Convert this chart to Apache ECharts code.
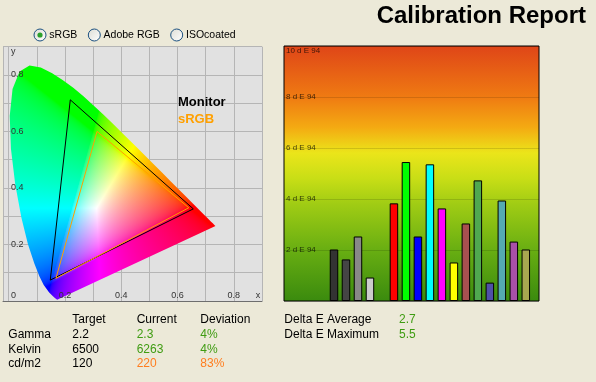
<!DOCTYPE html>
<html><head><meta charset="utf-8">
<script src="https://cdn.jsdelivr.net/npm/echarts@6/dist/echarts.min.js"></script>
<style>html,body{margin:0;padding:0;background:#ece9d8;}#c{width:596px;height:382px;}</style>
</head><body><div id="c"></div>
<script>
// ---- Data ----
// CIE 1931 spectral locus (nm -> x, y)
const wavelengths = [380,400,420,430,440,450,460,470,475,480,485,490,495,500,505,510,515,520,525,530,535,540,545,550,555,560,565,570,575,580,585,590,595,600,610,620,630,640,650,660,680,700];
const locusX = [0.1741,0.1733,0.1714,0.1689,0.1644,0.1566,0.1440,0.1241,0.1096,0.0913,0.0687,0.0454,0.0235,0.0082,0.0039,0.0139,0.0389,0.0743,0.1142,0.1547,0.1929,0.2296,0.2658,0.3016,0.3373,0.3731,0.4087,0.4441,0.4788,0.5125,0.5448,0.5752,0.6029,0.6270,0.6658,0.6915,0.7079,0.7190,0.7260,0.7300,0.7334,0.7347];
const locusY = [0.0050,0.0048,0.0051,0.0069,0.0109,0.0177,0.0297,0.0578,0.0868,0.1327,0.2007,0.2950,0.4127,0.5384,0.6548,0.7502,0.8120,0.8338,0.8262,0.8059,0.7816,0.7543,0.7243,0.6923,0.6589,0.6245,0.5896,0.5547,0.5202,0.4866,0.4544,0.4242,0.3965,0.3725,0.3340,0.3083,0.2920,0.2809,0.2740,0.2700,0.2666,0.2653];
// Gamut triangles (R, G, B)
const monitorX = [0.656, 0.219, 0.148];
const monitorY = [0.326, 0.712, 0.074];
const srgbX = [0.640, 0.314, 0.168];
const srgbY = [0.330, 0.600, 0.080];
const gamutNames = ['Monitor', 'sRGB'];
// Delta E per patch (null = gap)
const patchDeltaE = [2.02, 1.63, 2.53, 0.92, null, 3.83, 5.45, 2.53, 5.36, 3.63, 1.51, 3.04, 4.73, 0.72, 3.94, 2.33, 2.02];
const patchColors = ['#333333','#454545','#888888','#cccccc',null,'#ff0000','#00ff00','#0000ff','#00ffff','#ff00ff','#ffff00','#a85050','#50a850','#5050a8','#55aab2','#a850a8','#a8a850'];
// Radio options
const radioLabels = ['sRGB', 'Adobe RGB', 'ISOcoated'];
const radioSelected = 0;
// Table
const tableHeader = ['Target', 'Current', 'Deviation'];
const rowLabels = ['Gamma', 'Kelvin', 'cd/m2'];
const targetVals = ['2.2', '6500', '120'];
const currentVals = ['2.3', '6263', '220'];
const deviationVals = ['4%', '4%', '83%'];
const rowStatus = ['ok', 'ok', 'warn'];
const summaryLabels = ['Delta E Average', 'Delta E Maximum'];
const summaryVals = ['2.7', '5.5'];

// ---- Helpers ----
const FONT = 'Liberation Sans';
const GREEN = '#3f9c12', ORANGE = '#ff7d1e';
function gammaEnc(v){ return v <= 0.0031308 ? 12.92*v : 1.055*Math.pow(v, 1/2.4) - 0.055; }
function chroma(x, y){
  y = Math.max(y, 0.002);
  const X = x / y, Z = (1 - x - y) / y;
  let r = 3.2406*X - 1.5372 - 0.4986*Z;
  let g = -0.9689*X + 1.8758 + 0.0415*Z;
  let b = 0.0557*X - 0.2040 + 1.0570*Z;
  r = Math.max(r, 0); g = Math.max(g, 0); b = Math.max(b, 0);
  const m = Math.max(r, g, b, 1e-6);
  return [r/m, g/m, b/m].map(v => Math.round(255*Math.min(1, gammaEnc(v))));
}
let fillCache = null;
function buildFill(api, cs){
  const key = [cs.x, cs.y, cs.width, cs.height].join(',');
  if (fillCache && fillCache.key === key) return fillCache.canvas;
  const w = Math.ceil(cs.width), h = Math.ceil(cs.height);
  const cv = document.createElement('canvas'); cv.width = w; cv.height = h;
  const ctx = cv.getContext('2d');
  const img = ctx.createImageData(w, h);
  const p0 = api.coord([0, 0]), p1 = api.coord([1, 1]);
  const sx = p1[0] - p0[0], sy = p1[1] - p0[1];
  for (let j = 0; j < h; j++) for (let i = 0; i < w; i++) {
    const x = (cs.x + i + 0.5 - p0[0]) / sx;
    const y = (cs.y + j + 0.5 - p0[1]) / sy;
    const c = chroma(x, y);
    const k = (j*w + i)*4;
    img.data[k] = c[0]; img.data[k+1] = c[1]; img.data[k+2] = c[2]; img.data[k+3] = 255;
  }
  ctx.putImageData(img, 0, 0);
  fillCache = {key, canvas: cv};
  return cv;
}
function closedLoop(xs, ys){ const d = xs.map((x, i) => [x, ys[i]]); d.push(d[0]); return d; }

// ---- Chart ----
const chart = echarts.init(document.getElementById('c'), null, {renderer: 'canvas'});

const graphics = [];
// Radio buttons
const radioX = [40, 94.3, 176.7];
radioLabels.forEach((t, i) => {
  graphics.push({type: 'circle', shape: {cx: radioX[i], cy: 35, r: 6}, style: {
    fill: {type: 'linear', x: 0, y: 0, x2: 1, y2: 1, colorStops: [{offset: 0, color: '#dcdcd4'}, {offset: 1, color: '#ffffff'}]},
    stroke: '#1c5180', lineWidth: 1}, silent: true});
  if (i === radioSelected) {
    graphics.push({type: 'circle', shape: {cx: radioX[i], cy: 35, r: 2.6}, style: {fill: '#2ca02c'}, silent: true});
  }
  graphics.push({type: 'text', x: radioX[i] + 9.3, y: 35, style: {text: t, font: '10.5px "' + FONT + '"', fill: '#000', verticalAlign: 'middle'}, silent: true});
});
// Table
const colX = [8.3, 72.3, 136.7, 200.3];
const rowY = [320, 334.5, 349.5, 364];
tableHeader.forEach((t, i) => graphics.push({type: 'text', x: colX[i+1], y: rowY[0], style: {text: t, font: '12px "' + FONT + '"', fill: '#000', verticalAlign: 'middle'}}));
rowLabels.forEach((t, r) => {
  const col = rowStatus[r] === 'ok' ? GREEN : ORANGE;
  [[t, '#000'], [targetVals[r], '#000'], [currentVals[r], col], [deviationVals[r], col]].forEach((c, i) => {
    graphics.push({type: 'text', x: colX[i], y: rowY[r+1], style: {text: c[0], font: '12px "' + FONT + '"', fill: c[1], verticalAlign: 'middle'}});
  });
});
summaryLabels.forEach((t, r) => {
  graphics.push({type: 'text', x: 284.3, y: rowY[r], style: {text: t, font: '12px "' + FONT + '"', fill: '#000', verticalAlign: 'middle'}});
  graphics.push({type: 'text', x: 399, y: rowY[r], style: {text: summaryVals[r], font: '12px "' + FONT + '"', fill: GREEN, verticalAlign: 'middle'}});
});

const barData = [];
patchDeltaE.forEach((v, i) => { if (v != null) barData.push({value: [i, v], itemStyle: {color: patchColors[i]}}); });

const xyXLabel = {inside: true, margin: 1, fontFamily: FONT, fontSize: 9, color: '#333',
  formatter: v => { const r = Math.round(v*10); if (Math.abs(v*10 - r) > 1e-6) return ''; if (r === 9) return '{e|x}'; return (r > 0 && r % 2 === 0) ? '0.' + r : ''; },
  rich: {e: {fontFamily: FONT, fontSize: 9, color: '#333', padding: [0, 8, 0, 0]}}};
const xyYLabel = {inside: true, margin: 8, fontFamily: FONT, fontSize: 9, color: '#333',
  formatter: v => { const r = Math.round(v*10); if (r === 9) return '{t|y}'; if (r === 0) return '{b|0}'; return r % 2 === 0 ? '0.' + r : ''; },
  rich: {t: {fontFamily: FONT, fontSize: 9, color: '#333', padding: [10, 0, 0, 0]},
         b: {fontFamily: FONT, fontSize: 9, color: '#333', padding: [0, 0, 10, 0]}}};

const option = {
  backgroundColor: '#ece9d8',
  animation: false,
  title: {text: 'Calibration Report', right: 10, top: 4, padding: 0,
    textStyle: {fontFamily: FONT, fontWeight: 'bold', fontSize: 24, color: '#000'}},
  legend: {orient: 'vertical', left: 173, top: 95, padding: 0, itemWidth: 0, itemHeight: 14, itemGap: 3, icon: 'rect',
    selectedMode: false, itemStyle: {opacity: 0}, lineStyle: {opacity: 0},
    textStyle: {fontFamily: FONT, fontWeight: 'bold', fontSize: 13},
    data: [{name: gamutNames[0], textStyle: {color: '#000'}}, {name: gamutNames[1], textStyle: {color: '#ffa000'}}]},
  grid: [
    {left: 2, top: 46.7, width: 260, height: 254.3, show: true, backgroundColor: '#e1e1e1', borderWidth: 0},
    {left: 284, top: 46, width: 255, height: 255, show: true, borderColor: '#000', borderWidth: 1,
      backgroundColor: {type: 'linear', x: 0, y: 0, x2: 0, y2: 1, colorStops: [
        {offset: 0, color: '#df4518'}, {offset: 0.2, color: '#ef7a12'}, {offset: 0.32, color: '#f4aa12'},
        {offset: 0.42, color: '#ebe51a'}, {offset: 0.52, color: '#c8de16'}, {offset: 0.62, color: '#a0cc14'},
        {offset: 0.8, color: '#68ae12'}, {offset: 1, color: '#3a8a0e'}]}}
  ],
  xAxis: [
    {gridIndex: 0, type: 'value', min: -0.02, max: 0.9, splitNumber: 9, position: 'bottom',
      axisLine: {show: true, onZero: false, lineStyle: {color: '#6e6e6e', width: 1}}, axisTick: {show: false},
      splitLine: {show: true, lineStyle: {color: '#b5b5b5', width: 1}}, axisLabel: {show: false}},
    {gridIndex: 1, type: 'value', min: -4.17, max: 17.1, show: false},
    {gridIndex: 0, type: 'value', min: -0.02, max: 0.9, splitNumber: 9, position: 'bottom', offset: 0, z: 10,
      axisLine: {show: false, onZero: false}, axisTick: {show: false}, splitLine: {show: false}, axisLabel: xyXLabel}
  ],
  yAxis: [
    {gridIndex: 0, type: 'value', min: 0, max: 0.9, interval: 0.1, position: 'left',
      axisLine: {show: false}, axisTick: {show: false},
      splitLine: {show: true, lineStyle: {color: '#b5b5b5', width: 1}}, axisLabel: {show: false}},
    {gridIndex: 1, type: 'value', min: 0, max: 10, interval: 2,
      axisLine: {show: false}, axisTick: {show: false},
      splitLine: {show: true, lineStyle: {color: 'rgba(0,0,0,0.13)', width: 1}},
      axisLabel: {inside: true, margin: 2, fontFamily: FONT, fontSize: 8, color: 'rgba(0,0,0,0.72)',
        formatter: v => v === 0 ? '' : (v === 10 ? '{t|' + v + ' d E 94}' : v + ' d E 94'),
        rich: {t: {fontFamily: FONT, fontSize: 8, color: 'rgba(0,0,0,0.72)', padding: [10, 0, 0, 0]}}}},
    {gridIndex: 0, type: 'value', min: 0, max: 0.9, interval: 0.1, position: 'left', offset: 0, z: 10,
      axisLine: {show: false, onZero: false}, axisTick: {show: false}, splitLine: {show: false}, axisLabel: xyYLabel}
  ],
  series: [
    {type: 'custom', name: 'locus', xAxisIndex: 0, yAxisIndex: 0, z: 1, silent: true, data: [0],
      renderItem: (params, api) => {
        const cs = params.coordSys;
        const pts = locusX.map((x, i) => api.coord([x, locusY[i]]));
        const cv = buildFill(api, cs);
        return {type: 'polygon', shape: {points: pts}, style: {fill: {image: cv, repeat: 'no-repeat', x: cs.x, y: cs.y}, stroke: null}};
      }},
    {type: 'line', name: gamutNames[0], xAxisIndex: 0, yAxisIndex: 0, z: 3, symbol: 'none', silent: true,
      data: closedLoop(monitorX, monitorY), lineStyle: {color: '#000', width: 1}, itemStyle: {color: '#000'}},
    {type: 'line', name: gamutNames[1], xAxisIndex: 0, yAxisIndex: 0, z: 3, symbol: 'none', silent: true,
      data: closedLoop(srgbX, srgbY), lineStyle: {color: '#ffa000', width: 1}, itemStyle: {color: '#ffa000'}},
    {type: 'bar', name: 'dE', xAxisIndex: 1, yAxisIndex: 1, barWidth: 8.5, silent: true,
      itemStyle: {borderColor: '#000', borderWidth: 1}, data: barData}
  ],
  graphic: graphics
};
chart.setOption(option);
</script></body></html>
